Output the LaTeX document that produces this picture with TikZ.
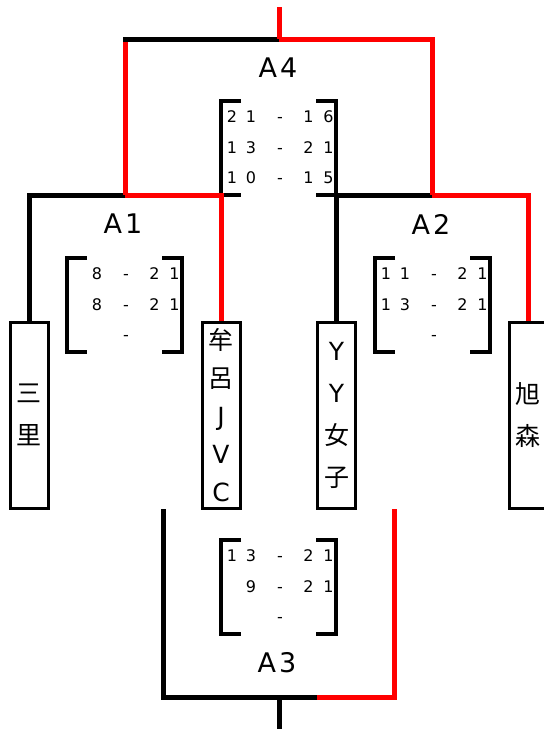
\documentclass[tikz,border=0pt]{standalone}
\usepackage{fontspec}
\setmainfont{DejaVu Sans}
\newfontfamily\cjk{Noto Sans CJK JP}
\newcommand\colorWinner{red}
\newcommand\colorLoser{black}
\newcommand\bracketW{115}
\newcommand\bracketH{94}
\newcommand\bracketArm{20}
\newcommand\drawScores[4]{
	\begin{scope}[shift={(#2,#3)}]
		\draw[bracket] (\bracketArm,0) -| (0,\bracketH) -- (\bracketArm,\bracketH);
		\draw[bracket] (\bracketW-\bracketArm,0) -| (\bracketW,\bracketH) -- (\bracketW-\bracketArm,\bracketH);
		\foreach [count=\r] \a/\b/\c/\d in {#4}{
			\node[digit] (#1-\r-a) at (11,\r*30.5-14.5) {\a};
			\node[digit] (#1-\r-b) at (30,\r*30.5-14.5) {\b};
			\node[digit] (#1-\r-dash) at (59,\r*30.5-14.5) {-};
			\node[digit] (#1-\r-c) at (87.5,\r*30.5-14.5) {\c};
			\node[digit] (#1-\r-d) at (107.5,\r*30.5-14.5) {\d};
		}
	\end{scope}
}
\tikzset{
	winner/.style={draw=\colorWinner, line width=5pt},
	loser/.style={draw=\colorLoser, line width=5pt},
	team/.style={draw, line width=3pt, minimum width=38pt, minimum height=186pt, inner sep=0pt, align=center, font=\fontsize{25}{42}\selectfont},
	bracket/.style={line width=3.2pt},
	digit/.style={inner sep=0pt, text height=11.7pt, text depth=0pt, font=\fontsize{16}{18}\selectfont},
	match/.style={inner sep=0pt, font=\fontsize{27}{30}\selectfont}
}
\begin{document}
\begin{tikzpicture}[x=1pt,y=-1pt]
		\useasboundingbox (0,0) rectangle (544,729);
	
		\drawScores{fin}{221}{101}{2/1/1/6, 1/3/2/1, 1/0/1/5}
		\drawScores{semi1}{67}{258}{{}/8/2/1, {}/8/2/1, {}/{}/{}/{}}
		\drawScores{semi2}{375}{258}{1/1/2/1, 1/3/2/1, {}/{}/{}/{}}
		\drawScores{third}{221}{540}{1/3/2/1, {}/9/2/1, {}/{}/{}/{}}
	
		\node[team] (sato) at (29,415) {{\cjk 三}\\{\cjk 里}};
		\node[team, font=\fontsize{25}{38}\selectfont] (muro) at (221,415) {{\cjk 牟}\\{\cjk 呂}\\J\\V\\C};
		\node[team] (yy) at (336.5,415) {Y\\Y\\{\cjk 女}\\{\cjk 子}};
		\node[team] (asahi) at (528,415) {{\cjk 旭}\\{\cjk 森}};
	
		\coordinate (a1) at (125,195);
		\coordinate (a2) at (432,195);
		\coordinate (a4) at (279,39);
		\coordinate (champ) at (279,7);
		\coordinate (a3left) at (163,509);
		\coordinate (a3right) at (394,509);
		\coordinate (a3) at (279,697);
		\coordinate (a3split) at (317,697);
		\coordinate (bottom) at (279,729);
	
		\draw[loser] (sato.north) |- (a1);
		\draw[winner] (muro.north) |- (a1);
		\draw[loser] (yy.north) |- (a2);
		\draw[winner] (asahi.north) |- (a2);
		\draw[winner] (a1) -- (a1 |- a4);
		\draw[loser, line cap=rect] (a1 |- a4) -- (a4);
		\draw[winner] (a2) |- (a4);
		\draw[winner] (a4) -- (champ);
		\draw[loser] (a3left) |- (a3split);
		\draw[winner] (a3right) |- (a3split);
		\draw[loser] (a3) -- (bottom);
	
		\node[match] (a4name) at (278,67.5) {A\kern3pt4};
		\node[match] (a1name) at (123,224) {A\kern3pt1};
		\node[match] (a2name) at (431,224) {A\kern3pt2};
		\node[match] (a3name) at (277,663) {A\kern3pt3};
	\end{tikzpicture}
\end{document}
